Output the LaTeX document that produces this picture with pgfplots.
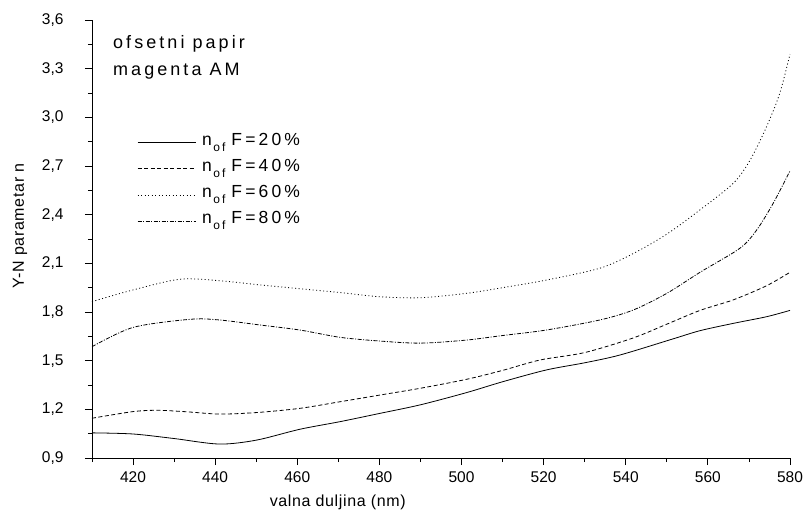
\documentclass[border=0pt]{standalone}
\usepackage{pgfplots}
\pgfplotsset{compat=1.18}
\usepackage{fontspec}
\setmainfont{Liberation Sans}
\newcommand{\nof}{\hspace{5pt}n\hspace{1.5pt}\raisebox{-6pt}{\fontsize{12}{12}\selectfont of}\hspace{6pt}}
\begin{document}
\begin{tikzpicture}
\path[use as bounding box] (-92pt,-69pt) rectangle (718pt,458pt);
\begin{axis}[
  at={(0,0)}, anchor=south west,
  scale only axis, width=698pt, height=438pt,
  xmin=410, xmax=580, ymin=0.9, ymax=3.6,
  axis x line=bottom, axis y line=left,
  axis line style={-, line width=0.8pt},
  tick align=outside,
  major tick length=7pt, minor tick length=4pt,
  every tick/.style={line width=0.8pt, black},
  xtick={420,440,...,580},
  minor xtick={410,430,...,570},
  ytick={0.9,1.2,1.5,1.8,2.1,2.4,2.7,3.0,3.3,3.6},
  minor ytick={1.05,1.35,1.65,1.95,2.25,2.55,2.85,3.15,3.45},
  /pgf/number format/assume math mode=true,
  yticklabel style={xshift=-18pt, /pgf/number format/use comma, /pgf/number format/fixed, /pgf/number format/fixed zerofill, /pgf/number format/precision=1},
  xticklabel style={yshift=-3pt, /pgf/number format/fixed, /pgf/number format/1000 sep={}},
  ticklabel style={font=\fontsize{15.5}{17}\selectfont},
  xlabel={valna duljina (nm)},
  ylabel={Y-N parametar n},
  label style={font=\fontsize{16}{18}\selectfont\addfontfeatures{LetterSpace=4}},
  xlabel style={at={(ticklabel cs:0.352)}, anchor=north, yshift=-6pt},
  ylabel style={at={(axis description cs:-0.103,0.53)}, anchor=center},
  legend style={draw=none, fill=none, at={(axis description cs:0.0645,0.745)}, anchor=north west,
    font=\fontsize{17.5}{19}\selectfont\addfontfeatures{LetterSpace=18}, row sep=4.7pt, inner sep=0pt,
    nodes={inner sep=1pt, text height=12.5pt, text depth=7pt}},
  legend cell align=left,
  legend image code/.code={\draw[#1] (0pt,0pt) -- (58pt,0pt);},
  clip=false,
]
\addplot[black, line width=0.8pt, smooth, tension=0.5] coordinates {
(410,1.055) (420,1.048) (430,1.02) (441,0.986) (450,1.01) (460.6,1.077) (470.4,1.124)
(480.1,1.175) (490,1.228) (501.2,1.303) (510,1.37) (520.7,1.443) (530,1.487) (538.6,1.535)
(551.6,1.635) (558.1,1.685) (566.2,1.73) (574.3,1.771) (580,1.81)};
\addlegendentry{\nof F=20\%}
\addplot[black, line width=0.8pt, smooth, tension=0.5, dash pattern=on 4pt off 2.5pt] coordinates {
(410,1.145) (420,1.186) (426,1.194) (433,1.185) (441,1.171) (450,1.18) (460.6,1.206) (470,1.245)
(480.1,1.288) (490,1.33) (501.2,1.385) (510,1.44) (519.1,1.504) (530,1.55) (541.8,1.64)
(550,1.725) (558.1,1.81) (566.2,1.875) (574.3,1.962) (580,2.045)};
\addlegendentry{\nof F=40\%}
\addplot[black, line width=0.8pt, smooth, tension=0.5, dash pattern=on 1pt off 2.5pt] coordinates {
(410,1.864) (420,1.936) (431.4,2.002) (441,1.993) (450.9,1.967) (460,1.945) (470.4,1.92)
(480.1,1.894) (490,1.888) (501.2,1.915) (510,1.95) (520.7,1.997) (533.7,2.07) (541.8,2.16)
(550,2.28) (558.1,2.43) (566.2,2.594) (570.3,2.737) (574.3,2.943) (577.5,3.148) (580,3.39)};
\addlegendentry{\nof F=60\%}
\addplot[black, line width=0.8pt, smooth, tension=0.5, dash pattern=on 4pt off 1.5pt on 1pt off 1.5pt] coordinates {
(410,1.586) (420,1.705) (433.9,1.755) (441,1.751) (450.9,1.72) (460.6,1.689) (470.4,1.644)
(480.1,1.621) (490,1.608) (501.2,1.627) (510,1.655) (520.7,1.689) (533.7,1.751) (541.8,1.812)
(550,1.915) (558.1,2.045) (567.8,2.193) (571.9,2.306) (575.9,2.47) (580,2.67)};
\addlegendentry{\nof F=80\%}
\node[anchor=north west, align=left, font=\fontsize{18}{27}\selectfont\addfontfeatures{LetterSpace=17}, inner sep=0pt]
  at (axis description cs:0.03,0.965) {ofsetni papir\\magenta AM};
\end{axis}
\end{tikzpicture}
\end{document}
